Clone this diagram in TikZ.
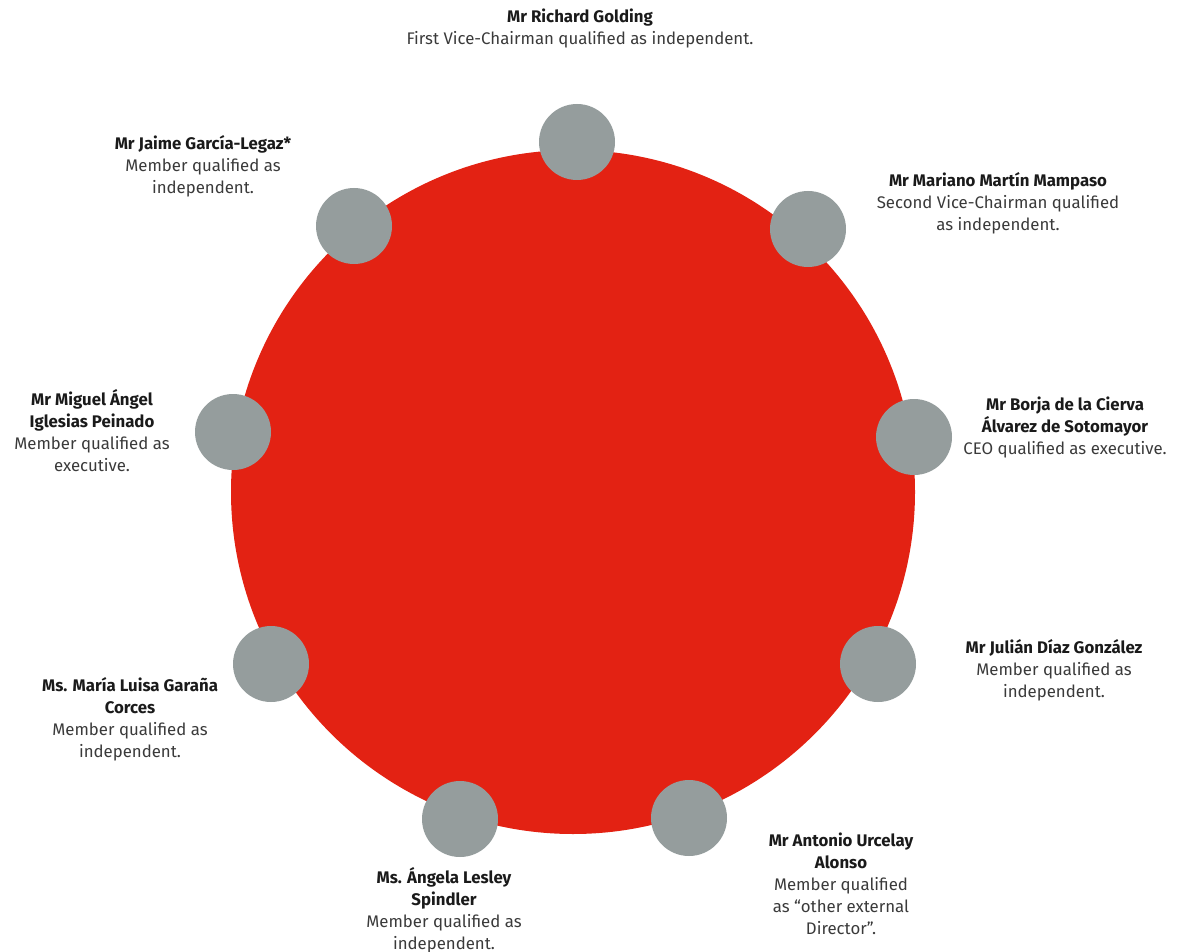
\documentclass[tikz,border=0pt]{standalone}
\usepackage{fontspec}
\setmainfont{Fira Sans}
\definecolor{bigred}{HTML}{E32213}
\definecolor{dotgray}{HTML}{959D9D}
\definecolor{namec}{HTML}{1A1A1A}
\definecolor{descc}{HTML}{3A3A3A}
\tikzset{
  dot/.style={circle, fill=dotgray, minimum size=76pt, inner sep=0pt},
  lbl/.style={align=center, anchor=north, inner sep=0pt, font=\fontsize{16.8}{22}\selectfont, text=descc},
}
\newcommand{\nm}[1]{{\color{namec}\bfseries #1}}
\begin{document}
\begin{tikzpicture}[x=1pt,y=-1pt]
\useasboundingbox (0,0) rectangle (1194,952);
\node[circle, fill=bigred, minimum size=684pt, inner sep=0pt] (main) at (573,492) {};
\node[dot] (c1) at (577,142) {};
\node[dot] (c2) at (808,229) {};
\node[dot] (c3) at (914,437) {};
\node[dot] (c4) at (878,664) {};
\node[dot] (c5) at (689,818) {};
\node[dot] (c6) at (460,819) {};
\node[dot] (c7) at (271,664) {};
\node[dot] (c8) at (233,432) {};
\node[dot] (c9) at (354,226) {};
\node[lbl] (t1) at (580,9) {\nm{Mr Richard Golding}\\First Vice-Chairman qualified as independent.};
\node[lbl] (t2) at (998,172) {\nm{Mr Mariano Martín Mampaso}\\Second Vice-Chairman qualified\\as independent.};
\node[lbl] (t3) at (1065,397) {\nm{Mr Borja de la Cierva}\\\nm{Álvarez de Sotomayor}\\CEO qualified as executive.};
\node[lbl] (t4) at (1054,639) {\nm{Mr Julián Díaz González}\\Member qualified as\\independent.};
\node[lbl] (t5) at (841,833) {\nm{Mr Antonio Urcelay}\\\nm{Alonso}\\Member qualified\\as “other external\\Director”.};
\node[lbl] (t6) at (444,867) {\nm{Ms. Ángela Lesley}\\\nm{Spindler}\\Member qualified as\\independent.};
\node[lbl] (t7) at (130,677) {\nm{Ms. María Luisa Garaña}\\\nm{Corces}\\Member qualified as\\independent.};
\node[lbl] (t8) at (92,389) {\nm{Mr Miguel Ángel}\\\nm{Iglesias Peinado}\\Member qualified as\\executive.};
\node[lbl] (t9) at (203,135) {\nm{Mr Jaime García-Legaz*}\\Member qualified as\\independent.};
\end{tikzpicture}
\end{document}
